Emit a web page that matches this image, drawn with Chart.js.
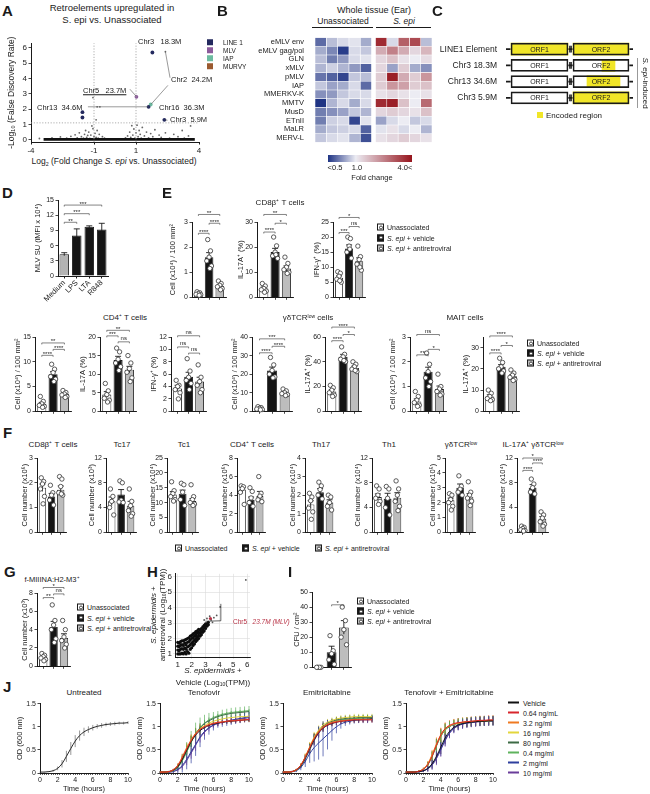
<!DOCTYPE html>
<html>
<head>
<meta charset="utf-8">
<script src="https://cdn.jsdelivr.net/npm/chart.js@4.4.1/dist/chart.umd.min.js"></script>
<style>
  html, body { margin: 0; padding: 0; background: #fff; }
  #fig { position: relative; width: 650px; height: 794px; overflow: hidden;
         font-family: "Liberation Sans", Arial, sans-serif; color: #1a1a1a; }
  .t { position: absolute; white-space: nowrap; line-height: 1; color: #1a1a1a; }
  .t sup, .t sub { font-size: 62%; line-height: 0; position: relative; vertical-align: baseline; }
  .t sup { top: -0.5em; }
  .t sub { top: 0.3em; }
  .cv { position: absolute; }
  .ic { display: inline-block; position: relative; width: 5px; height: 5px; border: 1px solid #1a1a1a;
        margin-right: 3px; vertical-align: -1px; }
  .ic:after { content: ''; position: absolute; left: 0.5px; top: 0.5px; width: 4px; height: 4px;
              border-radius: 50%; box-sizing: border-box; border: 0.8px solid #444; background: #fff; }
  .ln { display: inline-block; width: 11px; height: 1.6px; margin-right: 4px; vertical-align: 2px; }
  .hr { position: absolute; height: 0; border-top: 1px solid #1a1a1a; }
</style>
</head>
<body>
<div id="fig"></div>
<script>
// ---------------- data ----------------

// A: volcano plot (log2 fold change, -log10 FDR)
const volFcCut = [-1, 1];
const volFdrCut = 1.1;
const volYMin = -0.15, volYMax = 6.3;
const volFamilies = ['LINE 1', 'MLV', 'IAP', 'MURVY'];
const volFamilyColors = ['#23295e', '#8b5a9b', '#6cbba0', '#9b5a30'];
const volLine1 = [[1.78, 5.7], [1.6, 2.15], [-1.55, 1.8], [-1.55, 1.45], [2.35, 1.3]];
const volMlv = [[1.02, 2.8]];
const volIap = [[1.7, 2.3]];
const volMurvy = [];
const volOther = [[2.4, 5.75], [-1.05, 2.75], [-0.85, 2.15], [-0.72, 2.15], [-0.9, 1.3],
  [-3.6, 0.08], [-3.3, 0.05], [-3.0, 0.12], [-2.8, 0.04], [-2.6, 0.18], [-2.5, 0.06], [-2.3, 0.1],
  [-2.1, 0.22], [-2.0, 0.05], [-1.9, 0.32], [-1.8, 0.12], [-1.7, 0.45], [-1.6, 0.2], [-1.5, 0.1],
  [-1.45, 0.35], [-1.4, 0.6], [-1.35, 0.15], [-1.3, 0.28], [-1.25, 0.5], [-1.2, 0.08], [-1.15, 0.3],
  [-1.1, 0.9], [-1.05, 0.72], [-1.0, 0.2], [-0.95, 0.42], [-0.9, 0.15], [-0.85, 0.6], [-0.8, 0.1],
  [-0.75, 0.35], [-0.7, 0.06], [-0.6, 0.2], [-0.5, 0.1], [-0.3, 0.04], [0.3, 0.05], [0.5, 0.12],
  [0.6, 0.25], [0.7, 0.5], [0.75, 0.15], [0.8, 0.92], [0.85, 0.3], [0.9, 0.7], [0.95, 0.1],
  [1.0, 0.45], [1.05, 0.95], [1.1, 0.2], [1.15, 0.6], [1.2, 0.35], [1.25, 0.1], [1.3, 0.8],
  [1.4, 0.25], [1.5, 0.5], [1.6, 0.12], [1.7, 0.4], [1.8, 0.2], [1.9, 0.65], [2.0, 0.06],
  [2.1, 0.3], [2.2, 0.15], [2.4, 0.45], [2.6, 0.1], [2.8, 0.35], [3.0, 0.2], [3.2, 0.6],
  [3.3, 0.1], [3.5, 0.25], [3.6, 0.9], [3.7, 0.06]];
const volZeroBand = [[-3.4, 0.02], [3.8, 0.02]];
const volLeaders = [[2.4, 5.75, 2.62, 4.05], [2.52, 3.55, 1.72, 2.32], [0.71, 3.3, 1.0, 2.85],
  [-1.29, 2.15, 1.6, 2.15], [2.5, 1.27, 2.37, 1.3]];

// B: heatmap, log2 fold change per mouse
const hmRows = ['eMLV env', 'eMLV gag/pol', 'GLN', 'xMLV', 'pMLV', 'IAP', 'MMERKV-K', 'MMTV',
  'MusD', 'ETnII', 'MaLR', 'MERV-L'];
const hmUnassoc = [
  [-0.7, -0.25, -0.1, -0.05, -0.35], [-0.35, -0.55, -0.95, -0.1, -0.2], [-0.25, -0.6, -0.45, -0.1, -0.05],
  [-0.3, -0.15, -0.3, -0.45, -0.75], [-0.65, -0.75, -0.9, -0.2, -0.25], [-0.2, -0.4, -0.35, -0.1, -0.7],
  [-0.5, -0.45, -0.2, -0.1, -0.1], [-1.0, -0.3, -0.1, -0.35, -0.1], [-0.6, -0.5, -0.4, -0.2, -0.3],
  [-0.6, -0.15, -0.1, -0.9, -0.05], [-0.35, -0.2, -0.15, -0.1, -0.75], [-0.2, -0.1, -0.05, -0.3, -0.85]];
const hmSepi = [
  [1.8, -0.1, 1.3, 1.5, -0.25], [0.6, 1.0, 0.6, 0.2, 0.5], [0.2, 0.4, 0.1, 0.0, 0.15],
  [0.2, -0.4, 0.3, -0.35, -0.5], [0.3, 1.9, 0.6, 0.3, 0.8], [0.3, 0.8, 0.7, 0.3, 0.4],
  [0.1, 0.2, 0.1, 0.0, 0.1], [1.8, 1.9, 0.4, 0.0, 1.2], [0.2, 0.3, 0.2, 0.1, 0.4],
  [-0.4, -0.1, 0.0, -0.2, -0.1], [-0.05, 0.1, -0.1, 0.0, -0.3], [0.1, 0.2, 0.3, 0.2, 0.1]];

// C: ORF map
const orfRows = ['LINE1 Element', 'Chr3 18.3M', 'Chr13 34.6M', 'Chr3 5.9M'];
const orfElement = [-5, 122];
const orf1 = [0, 57];
const orf2 = [62, 118];
const encOrf1 = [[0, 57], null, null, null];
const encOrf2 = [[62, 118], [91, 104], [76, 109], [62, 118]];

// D
const dCats = ['Medium', 'LPS', 'LTA', 'R848'];
const dMean = [4.3, 8.0, 9.7, 9.2];
const dSem = [0.3, 1.3, 0.2, 1.2];

// E-I: group order = Unassociated, S. epi + vehicle, S. epi + antiretroviral
const groups = ['Unassociated', '<i>S. epi</i> + vehicle', '<i>S. epi</i> + antiretroviral'];
const e1Mean = [0.15, 1.6, 0.45], e1Sem = [0.03, 0.18, 0.05];
const e1Pts = [[0.22, 0.18, 0.15, 0.12, 0.1, 0.08], [2.3, 1.85, 1.6, 1.45, 1.25, 1.15], [0.65, 0.55, 0.48, 0.42, 0.35, 0.3]];
const e2Mean = [3.5, 18, 11.5], e2Sem = [0.6, 1.5, 1.0];
const e2Pts = [[5.5, 4.5, 3.5, 3, 2.5, 2], [24, 20.5, 18, 16.5, 15.5, 17], [16, 13.5, 12, 11, 10, 9.5]];
const e3Mean = [6.5, 16.2, 12], e3Sem = [0.6, 1.2, 1.1];
const e3Pts = [[8.5, 8, 7, 6, 5, 5.5], [20, 19.5, 17, 15, 13, 16], [17, 13.5, 12.5, 11, 9, 10]];
const e4Mean = [1.5, 7.5, 3.5], e4Sem = [0.3, 0.5, 0.3];
const e4Pts = [[3, 2, 1.5, 1.2, 1, 0.8], [9.5, 8.5, 7.8, 7, 6.5, 6], [4.2, 3.8, 3.5, 3.3, 3, 2.8]];
const e5Mean = [4.5, 13.8, 11.2], e5Sem = [0.8, 1.0, 0.9];
const e5Pts = [[7.5, 5.5, 4.5, 3.5, 3, 2.5], [17, 16, 14, 13, 12, 11], [15, 13, 11.5, 10.5, 9, 8]];
const e6Mean = [3.7, 5.6, 4.8], e6Sem = [0.5, 0.7, 0.7];
const e6Pts = [[5, 4.2, 4, 3.5, 3, 2], [8.5, 6.5, 5.5, 5, 4.5, 3.5], [7.5, 5.5, 4.8, 4.2, 3.5, 3]];
const e7Mean = [1.5, 22, 10], e7Sem = [0.3, 1.8, 0.6];
const e7Pts = [[2.5, 2, 1.6, 1.2, 1, 0.8], [29, 25, 22, 20, 18.5, 18], [12, 11, 10, 9.5, 9, 8.5]];
const e8Mean = [16, 44, 35], e8Sem = [1.5, 2.0, 1.5];
const e8Pts = [[21, 19, 17, 15, 13, 12], [52, 46, 44, 42, 40, 41], [40, 38, 36, 34, 32, 33]];
const e9Mean = [0.4, 1.6, 0.9], e9Sem = [0.1, 0.18, 0.12];
const e9Pts = [[0.8, 0.6, 0.45, 0.35, 0.25, 0.2], [2.35, 1.9, 1.6, 1.35, 1.2, 1.0], [1.5, 1.0, 0.9, 0.8, 0.7, 0.65]];
const e10Mean = [7, 21, 16.5], e10Sem = [0.8, 1.0, 0.8];
const e10Pts = [[10, 8.5, 7, 6, 5.5, 5], [25, 23, 21, 20, 19, 18], [19.5, 18, 17, 16, 15, 14.5]];

const f1Mean = [1.8, 1.45, 1.72], f1Sem = [0.15, 0.12, 0.15];
const f1Pts = [[2.2, 2.05, 1.95, 1.75, 1.45, 1.15], [1.9, 1.6, 1.5, 1.3, 1.1], [2.25, 2.15, 1.85, 1.6, 1.5, 1.55]];
const f2Mean = [5, 6.1, 4.3], f2Sem = [0.7, 0.8, 0.7];
const f2Pts = [[7, 5.8, 5, 4, 2.8], [8.3, 8, 5.2, 4.9, 4.8], [7, 5, 4.3, 3.5, 3, 2.6]];
const f3Mean = [12.7, 13, 10.5], f3Sem = [1.0, 1.2, 0.8];
const f3Pts = [[17, 14, 13, 12, 11, 10.5], [16.5, 16, 13.5, 11, 9], [16, 12, 11, 10, 9.5, 9]];
const f4Mean = [4.6, 3.5, 3.9], f4Sem = [0.4, 0.3, 0.5];
const f4Pts = [[5, 4.9, 4.7, 4.3, 3], [4.8, 4.4, 3.7, 3.2, 2.8], [6, 4.2, 3.9, 3.5, 3.3]];
const f5Mean = [1.5, 2.15, 1.6], f5Sem = [0.2, 0.2, 0.15];
const f5Pts = [[2.1, 1.9, 1.7, 1.3, 1.1, 0.7], [2.7, 2.5, 2.3, 2.0, 1.8], [2.0, 1.9, 1.6, 1.4, 1.2]];
const f6Mean = [5.7, 5.4, 5.6], f6Sem = [0.5, 0.9, 0.8];
const f6Pts = [[7.5, 7, 6, 5.5, 5, 4.5], [7.4, 7, 5.5, 4, 2.8], [8.3, 7, 6, 5, 4.2, 3.5]];
const f7Mean = [2.15, 3.0, 2.4], f7Sem = [0.15, 0.25, 0.2];
const f7Pts = [[2.6, 2.5, 2.2, 2.0, 1.75, 1.5], [3.8, 3.1, 2.9, 2.7, 2.5], [3.4, 2.7, 2.5, 2.3, 2.1, 1.8]];
const f8Mean = [0.5, 7.2, 2.2], f8Sem = [0.1, 0.5, 0.35];
const f8Pts = [[1.0, 0.8, 0.6, 0.4, 0.3, 0.2], [8.6, 7.8, 7.2, 6.5, 6.2], [3.3, 2.8, 2.3, 1.7, 1.3, 1.0]];

const gMean = [1.0, 4.3, 3.1], gSem = [0.12, 0.6, 0.45];
const gPts = [[1.4, 1.2, 1.05, 0.9, 0.75, 0.6], [6.7, 5, 4.5, 4, 3, 2.6], [5, 4, 3.2, 2.8, 2.4, 2]];

const iMean = [0, 10, 26.5], iSem = [0, 4, 4.5];
const iPts = [[0, 0, 0, 0], [21, 11, 9, 5, 2], [40, 31, 25, 20, 15]];

// H: log10 TPM, vehicle (x) vs antiretroviral (y)
const hCloud = [
  [1.0, 1.0], [1.0, 1.25], [1.0, 1.5], [1.0, 1.75], [1.1, 1.0], [1.1, 1.2], [1.1, 1.45], [1.1, 1.7],
  [1.2, 1.0], [1.2, 1.3], [1.2, 1.55], [1.2, 1.8], [1.3, 1.05], [1.3, 1.35], [1.3, 1.6], [1.3, 1.85],
  [1.4, 1.0], [1.4, 1.3], [1.4, 1.55], [1.4, 1.85], [1.5, 1.1], [1.5, 1.4], [1.5, 1.7], [1.5, 1.9],
  [1.6, 1.0], [1.6, 1.3], [1.6, 1.6], [1.6, 1.95], [1.7, 1.15], [1.7, 1.45], [1.7, 1.75], [1.7, 2.0],
  [1.8, 1.05], [1.8, 1.5], [1.8, 1.8], [1.8, 2.05], [1.9, 1.3], [1.9, 1.6], [1.9, 1.9], [1.9, 2.15],
  [2.0, 1.4], [2.0, 1.7], [2.0, 2.0], [2.0, 2.2], [2.1, 1.55], [2.1, 1.8], [2.1, 2.05], [2.1, 2.3],
  [2.2, 1.65], [2.2, 1.9], [2.2, 2.15], [2.2, 2.35], [2.3, 1.8], [2.3, 2.0], [2.3, 2.25], [2.3, 2.45],
  [2.4, 1.9], [2.4, 2.1], [2.4, 2.35], [2.4, 2.5], [2.5, 2.0], [2.5, 2.2], [2.5, 2.4], [2.5, 2.6],
  [2.6, 2.15], [2.6, 2.35], [2.6, 2.55], [2.7, 2.25], [2.7, 2.45], [2.7, 2.65], [2.8, 2.4], [2.8, 2.55],
  [2.8, 2.75], [2.9, 2.5], [2.9, 2.7], [2.9, 2.85], [3.0, 2.65], [3.0, 2.8], [3.0, 2.95], [3.1, 2.8],
  [3.1, 2.95], [3.2, 2.9], [3.2, 3.05]];
const hSparse = [[3.4, 3.2], [3.6, 3.35], [3.8, 3.5], [3.3, 3.45], [3.5, 3.05], [2.9, 3.2], [3.1, 3.3],
  [4.05, 4.05], [5.9, 5.8]];
const hChr5 = [[3.35, 3.3]];
const hLeader = [[3.0, 3.12], [4.1, 3.15], [4.1, 4.25]];

// J: growth curves, OD600 every 0.5 h
const jTime = [0, 0.5, 1, 1.5, 2, 2.5, 3, 3.5, 4, 4.5, 5, 5.5, 6, 6.5, 7, 7.5, 8, 8.5, 9, 9.5, 10];
const jLabels = ['Vehicle', '0.64 ng/mL', '3.2 ng/ml', '16 ng/ml', '80 ng/ml', '0.4 mg/ml', '2 mg/ml', '10 mg/ml'];
const jColors = ['#111111', '#d8262c', '#ef7a22', '#e3d63c', '#3d6b45', '#5fb35d', '#2f3f9e', '#6a3d9a'];
const untVeh = [0.02, 0.02, 0.03, 0.05, 0.1, 0.2, 0.36, 0.53, 0.69, 0.81, 0.89, 0.94, 0.98, 1.01, 1.03, 1.05, 1.06, 1.07, 1.08, 1.08, 1.09];
const untErr = [0.01, 0.01, 0.01, 0.02, 0.04, 0.08, 0.12, 0.14, 0.13, 0.11, 0.09, 0.07, 0.06, 0.05, 0.05, 0.04, 0.04, 0.04, 0.03, 0.03, 0.03];
const tenVeh = [0.02, 0.02, 0.03, 0.06, 0.14, 0.3, 0.5, 0.68, 0.82, 0.92, 0.98, 1.03, 1.06, 1.08, 1.1, 1.11, 1.12, 1.13, 1.14, 1.15, 1.15];
const ten064 = [0.02, 0.02, 0.03, 0.07, 0.16, 0.33, 0.52, 0.7, 0.84, 0.94, 1.0, 1.04, 1.07, 1.09, 1.1, 1.12, 1.13, 1.13, 1.14, 1.15, 1.16];
const ten32 = [0.02, 0.02, 0.03, 0.07, 0.17, 0.35, 0.55, 0.72, 0.86, 0.95, 1.01, 1.05, 1.08, 1.1, 1.11, 1.12, 1.13, 1.14, 1.15, 1.15, 1.16];
const ten16 = [0.02, 0.02, 0.03, 0.06, 0.15, 0.32, 0.52, 0.7, 0.85, 0.96, 1.03, 1.08, 1.12, 1.15, 1.17, 1.19, 1.2, 1.21, 1.22, 1.22, 1.23];
const ten80 = [0.02, 0.02, 0.03, 0.06, 0.13, 0.28, 0.48, 0.68, 0.85, 0.98, 1.07, 1.13, 1.18, 1.22, 1.25, 1.27, 1.29, 1.3, 1.31, 1.32, 1.33];
const ten04 = [0.02, 0.02, 0.03, 0.05, 0.12, 0.26, 0.45, 0.66, 0.84, 0.98, 1.08, 1.15, 1.2, 1.24, 1.27, 1.29, 1.31, 1.32, 1.33, 1.34, 1.35];
const ten2 = [0.02, 0.02, 0.02, 0.04, 0.08, 0.16, 0.3, 0.46, 0.62, 0.78, 0.9, 0.98, 1.04, 1.08, 1.1, 1.12, 1.14, 1.16, 1.18, 1.2, 1.22];
const ten10 = [0.02, 0.02, 0.02, 0.03, 0.07, 0.14, 0.27, 0.43, 0.6, 0.76, 0.88, 0.97, 1.03, 1.07, 1.1, 1.12, 1.14, 1.16, 1.17, 1.18, 1.2];
const tenErr = [0.01, 0.01, 0.01, 0.02, 0.04, 0.07, 0.1, 0.12, 0.12, 0.1, 0.08, 0.07, 0.06, 0.06, 0.05, 0.05, 0.05, 0.05, 0.05, 0.05, 0.05];
const tenErrBig = [0.01, 0.01, 0.02, 0.04, 0.08, 0.15, 0.22, 0.25, 0.25, 0.22, 0.18, 0.15, 0.12, 0.1, 0.1, 0.1, 0.1, 0.1, 0.1, 0.1, 0.1];
const emtVeh = [0.02, 0.02, 0.03, 0.07, 0.16, 0.33, 0.53, 0.72, 0.87, 0.97, 1.03, 1.07, 1.1, 1.12, 1.13, 1.14, 1.15, 1.15, 1.16, 1.16, 1.17];
const emt064 = [0.02, 0.02, 0.03, 0.07, 0.17, 0.34, 0.55, 0.74, 0.88, 0.98, 1.04, 1.08, 1.1, 1.12, 1.13, 1.14, 1.15, 1.15, 1.15, 1.15, 1.15];
const emt32 = [0.02, 0.02, 0.03, 0.07, 0.17, 0.35, 0.56, 0.76, 0.9, 1.0, 1.06, 1.1, 1.12, 1.13, 1.14, 1.15, 1.16, 1.16, 1.16, 1.16, 1.16];
const emt16 = [0.02, 0.02, 0.03, 0.07, 0.17, 0.35, 0.57, 0.78, 0.93, 1.04, 1.1, 1.14, 1.17, 1.19, 1.2, 1.21, 1.22, 1.22, 1.22, 1.22, 1.22];
const emt80 = [0.02, 0.02, 0.03, 0.06, 0.15, 0.32, 0.54, 0.75, 0.9, 1.01, 1.08, 1.12, 1.15, 1.17, 1.18, 1.19, 1.19, 1.2, 1.2, 1.2, 1.2];
const emt04 = [0.02, 0.02, 0.03, 0.06, 0.15, 0.31, 0.52, 0.72, 0.88, 0.99, 1.06, 1.1, 1.13, 1.15, 1.16, 1.17, 1.18, 1.18, 1.19, 1.19, 1.19];
const emt2 = [0.02, 0.02, 0.03, 0.05, 0.12, 0.25, 0.42, 0.55, 0.65, 0.74, 0.83, 0.92, 1.0, 1.06, 1.1, 1.12, 1.14, 1.15, 1.15, 1.15, 1.16];
const emt10 = [0.02, 0.02, 0.03, 0.06, 0.14, 0.3, 0.5, 0.7, 0.86, 0.98, 1.05, 1.1, 1.13, 1.15, 1.16, 1.16, 1.17, 1.17, 1.17, 1.17, 1.18];
const emtErr = [0.01, 0.01, 0.01, 0.02, 0.04, 0.07, 0.1, 0.11, 0.1, 0.08, 0.07, 0.06, 0.06, 0.06, 0.06, 0.06, 0.06, 0.06, 0.06, 0.06, 0.06];
const emtErrBig = [0.01, 0.01, 0.02, 0.03, 0.06, 0.12, 0.2, 0.3, 0.36, 0.38, 0.32, 0.22, 0.14, 0.1, 0.08, 0.07, 0.07, 0.07, 0.07, 0.07, 0.07];
const comVeh = [0.02, 0.02, 0.02, 0.03, 0.05, 0.1, 0.2, 0.36, 0.56, 0.76, 0.9, 0.99, 1.04, 1.07, 1.09, 1.1, 1.11, 1.12, 1.12, 1.13, 1.13];
const com064 = [0.02, 0.02, 0.02, 0.04, 0.08, 0.18, 0.36, 0.6, 0.82, 0.96, 1.03, 1.07, 1.09, 1.1, 1.11, 1.12, 1.13, 1.14, 1.14, 1.15, 1.15];
const com32 = [0.02, 0.02, 0.02, 0.04, 0.09, 0.2, 0.4, 0.63, 0.83, 0.96, 1.02, 1.06, 1.08, 1.1, 1.11, 1.12, 1.12, 1.13, 1.13, 1.14, 1.14];
const com16 = [0.02, 0.02, 0.02, 0.04, 0.08, 0.19, 0.38, 0.61, 0.81, 0.95, 1.02, 1.06, 1.08, 1.1, 1.11, 1.11, 1.12, 1.13, 1.13, 1.13, 1.14];
const com80 = [0.02, 0.02, 0.02, 0.04, 0.08, 0.18, 0.37, 0.6, 0.8, 0.94, 1.01, 1.05, 1.08, 1.09, 1.1, 1.11, 1.12, 1.12, 1.13, 1.13, 1.13];
const com04 = [0.02, 0.02, 0.02, 0.04, 0.08, 0.17, 0.35, 0.58, 0.79, 0.93, 1.0, 1.05, 1.07, 1.09, 1.1, 1.11, 1.12, 1.12, 1.13, 1.13, 1.14];
const com2 = [0.02, 0.02, 0.02, 0.03, 0.05, 0.09, 0.18, 0.33, 0.52, 0.72, 0.87, 0.97, 1.03, 1.06, 1.08, 1.1, 1.11, 1.12, 1.12, 1.13, 1.13];
const com10 = [0.02, 0.02, 0.02, 0.03, 0.05, 0.09, 0.17, 0.31, 0.5, 0.7, 0.86, 0.96, 1.02, 1.06, 1.08, 1.09, 1.1, 1.11, 1.12, 1.12, 1.13];
const comErr = [0.01, 0.01, 0.01, 0.02, 0.03, 0.06, 0.1, 0.14, 0.15, 0.13, 0.11, 0.1, 0.1, 0.1, 0.1, 0.1, 0.1, 0.1, 0.1, 0.1, 0.1];

// ---------------- helpers ----------------
const fig = document.getElementById('fig');
const ink = '#1a1a1a';
const groupFill = ['#ffffff', '#151515', '#bdbdbd'];
const jitter = [-0.13, 0.13, 0, -0.22, 0.22, 0.07];
Chart.defaults.font.family = '"Liberation Sans", Arial, sans-serif';
Chart.defaults.font.size = 7;
Chart.defaults.color = ink;

function T(html, x, y, o) {
  o = o || {};
  const d = document.createElement('div');
  d.className = 't';
  d.innerHTML = html;
  d.style.left = x + 'px';
  d.style.top = y + 'px';
  d.style.fontSize = (o.s || 7.5) + 'px';
  if (o.c) d.style.color = o.c;
  const ax = o.a === 'l' ? '0' : o.a === 'r' ? '-100%' : '-50%';
  d.style.transform = 'translate(' + ax + ',-50%)' + (o.rot ? ' rotate(' + o.rot + 'deg)' : '');
  fig.appendChild(d);
  return d;
}
function hr(x1, x2, y, col) {
  const d = document.createElement('div');
  d.className = 'hr';
  d.style.left = x1 + 'px'; d.style.width = (x2 - x1) + 'px'; d.style.top = y + 'px';
  if (col) d.style.borderTopColor = col;
  fig.appendChild(d);
}
const icon = k => '<span class="ic" style="background:' + groupFill[k] + '"></span>';
function legendCol(x, y, dy, s) {
  groups.forEach((g, i) => T(icon(i) + g, x, y + i * dy, {a: 'l', s: s || 7}));
}

function canvasAt(plot, m) {
  const c = document.createElement('canvas');
  const w = plot[2] - plot[0] + m.l + m.r, h = plot[3] - plot[1] + m.t + m.b;
  c.width = w; c.height = h;
  c.className = 'cv';
  c.style.left = (plot[0] - m.l) + 'px';
  c.style.top = (plot[1] - m.t) + 'px';
  c.style.width = w + 'px'; c.style.height = h + 'px';
  fig.appendChild(c);
  return c;
}
function opts(m, scales, extra) {
  return Object.assign({
    responsive: false, animation: false, events: [],
    layout: {padding: {left: 0, top: m.t, right: m.r, bottom: 0}},
    plugins: {legend: {display: false}, tooltip: {enabled: false}},
    scales: scales
  }, extra || {});
}
function yAxis(min, max, step, L, title, extra) {
  return Object.assign({
    type: 'linear', min: min, max: max,
    ticks: {stepSize: step, font: {size: 7}, color: ink, padding: 1.5},
    grid: {drawOnChartArea: false, tickLength: 2.5, color: ink, lineWidth: 0.8},
    border: {color: ink, width: 1},
    title: {display: !!title, text: title || '', font: {size: 7.5}, color: ink, padding: 0},
    afterFit: s => { s.width = L; }
  }, extra || {});
}

// error bars on dataset 0 (bars), drawn before the dots
const errBars = {
  id: 'errBars',
  afterDatasetDraw(chart, args) {
    if (args.index !== 0) return;
    const ds = chart.data.datasets[0];
    if (!ds.sem) return;
    const y = chart.scales.y, ctx = chart.ctx;
    ctx.save();
    ctx.strokeStyle = ink; ctx.lineWidth = 0.9;
    args.meta.data.forEach((bar, i) => {
      const raw = ds.data[i], v = typeof raw === 'object' ? raw.y : raw;
      const top = y.getPixelForValue(v + ds.sem[i]), lo = y.getPixelForValue(v - ds.sem[i]);
      ctx.beginPath();
      ctx.moveTo(bar.x, lo); ctx.lineTo(bar.x, top);
      ctx.moveTo(bar.x - 3, top); ctx.lineTo(bar.x + 3, top);
      ctx.stroke();
    });
    ctx.restore();
  }
};
// significance brackets [groupA, groupB, yValue, label]
const sigBars = {
  id: 'sigBars',
  afterDraw(chart) {
    const list = chart.data.datasets[0].sig;
    if (!list) return;
    const x = chart.scales.x, y = chart.scales.y, ctx = chart.ctx;
    ctx.save();
    ctx.strokeStyle = '#333'; ctx.fillStyle = '#222'; ctx.lineWidth = 0.6;
    ctx.font = '6px "Liberation Sans", Arial, sans-serif';
    ctx.textAlign = 'center'; ctx.textBaseline = 'bottom';
    list.forEach(([a, b, v, lab]) => {
      const xa = x.getPixelForValue(a), xb = x.getPixelForValue(b), yy = y.getPixelForValue(v);
      ctx.beginPath();
      ctx.moveTo(xa, yy + 1.5); ctx.lineTo(xa, yy); ctx.lineTo(xb, yy); ctx.lineTo(xb, yy + 1.5);
      ctx.stroke();
      ctx.fillText(lab, (xa + xb) / 2, yy + (lab === 'ns' ? -0.3 : 1.8));
    });
    ctx.restore();
  }
};
// vertical error bars on line series
const lineErr = {
  id: 'lineErr',
  beforeDatasetsDraw(chart) {
    const y = chart.scales.y, ctx = chart.ctx;
    ctx.save();
    ctx.lineWidth = 0.7;
    chart.data.datasets.forEach((ds, i) => {
      if (!ds.err) return;
      ctx.strokeStyle = ds.errColor || ds.borderColor;
      chart.getDatasetMeta(i).data.forEach((p, k) => {
        const v = ds.data[k].y, e = ds.err[k];
        ctx.beginPath();
        ctx.moveTo(p.x, y.getPixelForValue(v - e)); ctx.lineTo(p.x, y.getPixelForValue(v + e));
        ctx.stroke();
      });
    });
    ctx.restore();
  }
};
// text inside ORF boxes
const boxText = {
  id: 'boxText',
  afterDatasetsDraw(chart) {
    const ctx = chart.ctx;
    ctx.save();
    ctx.fillStyle = ink; ctx.font = '7px "Liberation Sans", Arial, sans-serif';
    ctx.textAlign = 'center'; ctx.textBaseline = 'middle';
    chart.data.datasets.forEach((ds, i) => {
      if (!ds.txt) return;
      chart.getDatasetMeta(i).data.forEach(el => {
        const p = el.getCenterPoint();
        ctx.fillText(ds.txt, p.x, p.y + 0.5);
      });
    });
    ctx.restore();
  }
};

function dotBar(plot, L, ymax, step, ytitle, mean, sem, pts, sig) {
  const m = {l: L, t: 30, r: 3, b: 5};
  const c = canvasAt(plot, m);
  const dots = [];
  pts.forEach((g, i) => g.forEach((v, k) => dots.push({x: i + jitter[k % jitter.length], y: v})));
  new Chart(c, {
    type: 'bar',
    data: {datasets: [
      {type: 'bar', data: mean.map((v, i) => ({x: i, y: v})), sem: sem, sig: sig || [],
       backgroundColor: groupFill, borderColor: ink, borderWidth: 0.9,
       barPercentage: 0.8, categoryPercentage: 1, order: 2},
      {type: 'scatter', data: dots, pointRadius: 2.2, pointBackgroundColor: '#fff',
       pointBorderColor: '#333', pointBorderWidth: 0.8, clip: false, order: 1}
    ]},
    options: opts(m, {
      x: {type: 'linear', min: -0.6, max: 2.6, offset: false,
          afterBuildTicks: s => { s.ticks = [0, 1, 2].map(v => ({value: v})); },
          ticks: {callback: () => ''},
          grid: {offset: false, drawOnChartArea: false, tickLength: 2.5, color: ink, lineWidth: 0.8},
          border: {color: ink, width: 1}, afterFit: s => { s.height = m.b; }},
      y: yAxis(0, ymax, step, m.l, ytitle)
    }),
    plugins: [errBars, sigBars]
  });
}

function growth(plot, series) {
  const m = {l: 25, t: 5, r: 5, b: 20};
  const c = canvasAt(plot, m);
  const ds = series.map(s => ({
    type: 'line', data: jTime.map((t, i) => ({x: t, y: s.v[i]})), err: s.e, errColor: s.ec,
    borderColor: s.c, borderWidth: 1, pointRadius: 0, tension: 0.35, order: s.o || 0
  }));
  new Chart(c, {
    type: 'line',
    data: {datasets: ds},
    options: opts(m, {
      x: {type: 'linear', min: 0, max: 10,
          afterBuildTicks: s => { const t = []; for (let v = 0; v <= 10; v += 0.25) t.push({value: v}); s.ticks = t; },
          ticks: {autoSkip: false, maxRotation: 0, padding: 1, font: {size: 7},
                  callback: v => (Math.abs(v % 2) < 1e-6 ? String(v) : '')},
          grid: {drawOnChartArea: false, tickLength: 2, color: ink, lineWidth: 0.7},
          border: {color: ink, width: 1},
          title: {display: true, text: 'Time (hours)', font: {size: 7.5}, padding: 0},
          afterFit: s => { s.height = m.b; }},
      y: yAxis(0, 1.5, 0.5, m.l, 'OD (600 nm)', {
          afterBuildTicks: s => { s.ticks = [0, 0.5, 1, 1.5].map(v => ({value: v})); },
          ticks: {font: {size: 7}, color: ink, padding: 1.5, callback: v => String(v)}})
    }),
    plugins: [lineErr]
  });
}

function heat(v) {
  const mid = [236, 236, 243], lo = [31, 52, 132], hi = [150, 20, 28];
  const t = v < 0 ? Math.min(1, -v) : Math.min(1, v / 2);
  const e = v < 0 ? lo : hi;
  const c = mid.map((a, i) => Math.round(a + (e[i] - a) * t));
  return 'rgb(' + c.join(',') + ')';
}
const xy = p => p.map(([x, y]) => ({x: x, y: y}));
const lineDs = (p, col, w, dash) => ({type: 'line', data: xy(p), borderColor: col, borderWidth: w,
  borderDash: dash || [], pointRadius: 0, fill: false, clip: false});
const dotDs = (p, col, r) => ({type: 'scatter', data: xy(p), pointRadius: r, pointBackgroundColor: col,
  pointBorderWidth: 0, clip: false});

// ---------------- A ----------------
T('<b>A</b>', 2, 10, {a: 'l', s: 15});
T('Retroelements upregulated in', 112, 8, {s: 9.5});
T('S. epi vs. Unassociated', 112, 20, {s: 9.5});
(function () {
  const plot = [31, 41, 199, 142], m = {l: 24, t: 4, r: 4, b: 12};
  const c = canvasAt(plot, m);
  const ds = [];
  volFcCut.forEach(v => ds.push(lineDs([[v, volYMin], [v, volYMax]], '#9a9a9a', 0.8, [1.2, 1.6])));
  ds.push(lineDs([[-4, volFdrCut], [4, volFdrCut]], '#9a9a9a', 0.8, [1.2, 1.6]));
  ds.push(lineDs(volZeroBand, '#111', 2.6));
  volLeaders.forEach(([a, b, c2, d]) => ds.push(lineDs([[a, b], [c2, d]], '#555', 0.6)));
  ds.push(dotDs(volOther, '#666', 0.9));
  [volLine1, volMlv, volIap, volMurvy].forEach((p, i) => ds.push(dotDs(p, volFamilyColors[i], 1.9)));
  new Chart(c, {
    type: 'scatter',
    data: {datasets: ds},
    options: opts(m, {
      x: {type: 'linear', min: -4, max: 4,
          afterBuildTicks: s => { s.ticks = [-4, -1, 1, 4].map(v => ({value: v})); },
          ticks: {font: {size: 8}, padding: 1},
          grid: {drawOnChartArea: false, tickLength: 2.5, color: ink},
          border: {color: ink, width: 1}, afterFit: s => { s.height = m.b; }},
      y: yAxis(volYMin, volYMax, 1, m.l, '-Log\u2081\u2080 (False Discovery Rate)', {
          afterBuildTicks: s => { s.ticks = [0, 1, 2, 3, 4, 5, 6].map(v => ({value: v})); },
          ticks: {font: {size: 8}, padding: 1.5},
          title: {display: true, text: '-Log\u2081\u2080 (False Discovery Rate)', font: {size: 8.5}, padding: 0}})
    })
  });
})();
T('Log<sub>2</sub> (Fold Change <i>S. epi</i> vs. Unassociated)', 114, 161, {s: 8.5});
T('Chr3&nbsp;&nbsp; 18.3M', 138, 42, {a: 'l', s: 7.5});
T('Chr2&nbsp; 24.2M', 171, 80, {a: 'l', s: 7.5});
T('<u>Chr5&nbsp;&nbsp; 23.7M</u>', 83, 91, {a: 'l', s: 7.5});
T('Chr13&nbsp; 34.6M', 37, 108, {a: 'l', s: 7.5});
T('Chr16&nbsp; 36.3M', 159, 108, {a: 'l', s: 7.5});
T('Chr3&nbsp; 5.9M', 170, 120, {a: 'l', s: 7.5});
volFamilies.forEach((f, i) => {
  T('<span style="display:inline-block;width:6px;height:6px;background:' + volFamilyColors[i] + '"></span>', 207, 43 + i * 8, {a: 'l'});
  T(f, 223, 43 + i * 8, {a: 'l', s: 6.5});
});

// ---------------- B ----------------
T('<b>B</b>', 217, 10, {a: 'l', s: 15});
T('Whole tissue (Ear)', 374, 10, {s: 9});
T('Unassociated', 343, 21, {s: 8.5});
T('<i>S. epi</i>', 404, 21, {s: 8.5});
hr(312, 373, 27); hr(376, 431, 27);
(function () {
  const plot = [315, 32, 432, 148], m = {l: 80, t: 2, r: 2, b: 2};
  const c = canvasAt(plot, m);
  const cell = cols => ({data: hmRows.map(() => 1), backgroundColor: cols, borderColor: '#fff',
    borderWidth: 0.6, borderSkipped: false, barPercentage: 1, categoryPercentage: 1});
  const ds = [];
  for (let j = 0; j < hmUnassoc[0].length; j++) ds.push(cell(hmUnassoc.map(r => heat(r[j]))));
  ds.push({data: hmRows.map(() => 0.35), backgroundColor: 'rgba(0,0,0,0)', borderWidth: 0,
    barPercentage: 1, categoryPercentage: 1});
  for (let j = 0; j < hmSepi[0].length; j++) ds.push(cell(hmSepi.map(r => heat(r[j]))));
  new Chart(c, {
    type: 'bar',
    data: {labels: hmRows, datasets: ds},
    options: opts(m, {
      x: {stacked: true, min: 0, max: 10.35, ticks: {display: false}, grid: {display: false},
          border: {display: false}, afterFit: s => { s.height = m.b; }},
      y: {stacked: true, ticks: {font: {size: 7.5}, padding: 3, autoSkip: false, color: ink},
          grid: {display: false}, border: {display: false}, afterFit: s => { s.width = m.l; }}
    }, {indexAxis: 'y'})
  });
})();
(function () {
  const d = document.createElement('div');
  d.style.cssText = 'position:absolute;left:328px;top:155px;width:84px;height:7px;' +
    'background:linear-gradient(to right,' + heat(-1) + ' 0%,' + heat(-0.5) + ' 17%,' + heat(0) + ' 33%,' +
    heat(0.7) + ' 57%,' + heat(1.4) + ' 80%,' + heat(2) + ' 100%);';
  fig.appendChild(d);
})();
T('&lt;0.5', 335, 168, {s: 7.5});
T('1.0', 357, 168, {s: 7.5});
T('4.0&lt;', 405, 168, {s: 7.5});
T('Fold change', 372, 178, {s: 7.5});

// ---------------- C ----------------
T('<b>C</b>', 432, 10, {a: 'l', s: 15});
(function () {
  const plot = [506, 37, 633, 110], m = {l: 76, t: 2, r: 2, b: 2};
  const c = canvasAt(plot, m);
  const rowsOf = span => orfRows.map(() => span);
  const base = {grouped: false, borderSkipped: false, barThickness: 12};
  new Chart(c, {
    type: 'bar',
    data: {labels: orfRows, datasets: [
      Object.assign({}, base, {data: rowsOf(orfElement), backgroundColor: ink, barThickness: 1, order: 6}),
      Object.assign({}, base, {data: rowsOf([orf1[1] + 1.5, orf1[1] + 2.2]), backgroundColor: ink, barThickness: 6, order: 6}),
      Object.assign({}, base, {data: rowsOf([orf2[0] - 2.2, orf2[0] - 1.5]), backgroundColor: ink, barThickness: 6, order: 6}),
      Object.assign({}, base, {data: rowsOf(orf1), backgroundColor: '#fff', order: 5}),
      Object.assign({}, base, {data: rowsOf(orf2), backgroundColor: '#fff', order: 5}),
      Object.assign({}, base, {data: encOrf1, backgroundColor: '#f1e628', order: 4}),
      Object.assign({}, base, {data: encOrf2, backgroundColor: '#f1e628', order: 4}),
      Object.assign({}, base, {data: rowsOf(orf1), backgroundColor: 'rgba(0,0,0,0)', borderColor: ink, borderWidth: 1, order: 1, txt: 'ORF1'}),
      Object.assign({}, base, {data: rowsOf(orf2), backgroundColor: 'rgba(0,0,0,0)', borderColor: ink, borderWidth: 1, order: 1, txt: 'ORF2'})
    ]},
    options: opts(m, {
      x: {min: orfElement[0], max: orfElement[1], ticks: {display: false}, grid: {display: false},
          border: {display: false}, afterFit: s => { s.height = m.b; }},
      y: {ticks: {font: {size: 8.5}, padding: 1, autoSkip: false, color: ink}, grid: {display: false},
          border: {display: false}, afterFit: s => { s.width = m.l; }}
    }, {indexAxis: 'y'}),
    plugins: [boxText]
  });
})();
T('<span style="display:inline-block;width:6px;height:6px;background:#f1e628;margin-right:3px"></span>Encoded region', 537, 116, {a: 'l', s: 8});
(function () {
  const d = document.createElement('div');
  d.style.cssText = 'position:absolute;left:637px;top:58px;width:0;height:50px;border-left:1px solid #999;';
  fig.appendChild(d);
})();
T('<i>S. epi</i>-induced', 645, 83, {s: 8, rot: 90});

// ---------------- D ----------------
T('<b>D</b>', 2, 192, {a: 'l', s: 15});
(function () {
  const plot = [58, 200, 108, 276], m = {l: 25, t: 6, r: 3, b: 30};
  const c = canvasAt(plot, m);
  new Chart(c, {
    type: 'bar',
    data: {labels: dCats, datasets: [{data: dMean, sem: dSem,
      sig: [[0, 1, 10.6, '**'], [0, 2, 12.3, '***'], [0, 3, 14, '***']],
      backgroundColor: ['#b3b3b3', '#151515', '#151515', '#151515'], borderColor: ink, borderWidth: 0.9,
      barPercentage: 0.76, categoryPercentage: 1}]},
    options: opts(m, {
      x: {ticks: {maxRotation: 45, minRotation: 45, autoSkip: false, font: {size: 7.5}, padding: 0, color: ink},
          grid: {offset: false, drawOnChartArea: false, tickLength: 2.5, color: ink},
          border: {color: ink, width: 1}, afterFit: s => { s.height = m.b; }},
      y: yAxis(0, 15, 3, m.l, 'MLV SU (iMFI x 10\u2074)')
    }),
    plugins: [errBars, sigBars]
  });
})();

// ---------------- E ----------------
T('<b>E</b>', 162, 192, {a: 'l', s: 15});
T('CD8\u03b2\u207a T cells', 280, 203, {s: 8});
dotBar([192, 222, 228, 298], 24, 3, 1, 'Cell (x10\u2074) / 100 mm\u00b2', e1Mean, e1Sem, e1Pts,
  [[0, 1, 2.55, '****'], [1, 2, 2.95, '****'], [0, 2, 3.3, '**']]);
dotBar([257, 222, 295, 298], 21, 30, 10, 'IL-17A\u207a (%)', e2Mean, e2Sem, e2Pts,
  [[0, 1, 26, '****'], [1, 2, 29.5, '*'], [0, 2, 33, '**']]);
dotBar([333, 222, 367, 298], 21, 25, 5, 'IFN-\u03b3\u207a (%)', e3Mean, e3Sem, e3Pts,
  [[0, 1, 21.5, '***'], [1, 2, 23.5, 'ns'], [0, 2, 26.5, '*']]);
legendCol(377, 227, 10.5, 7);

T('CD4\u207a T cells', 125, 318, {s: 8});
T('\u03b3\u03b4TCR<sup>low</sup> cells', 308, 318, {s: 8});
T('MAIT cells', 465, 318, {s: 8});
dotBar([35, 337, 73, 412], 22, 15, 5, 'Cell (x10\u2074) / 100 mm\u00b2', e4Mean, e4Sem, e4Pts,
  [[0, 1, 11.3, '****'], [1, 2, 12.5, '****'], [0, 2, 13.8, '**']]);
dotBar([100, 337, 138, 412], 22, 20, 5, 'IL-17A (%)', e5Mean, e5Sem, e5Pts,
  [[0, 1, 20.3, '***'], [1, 2, 18.7, 'ns'], [0, 2, 21.8, '**']]);
dotBar([171, 337, 208, 412], 22, 12, 2, 'IFN-\u03b3\u207a (%)', e6Mean, e6Sem, e6Pts,
  [[0, 2, 12.2, 'ns'], [0, 1, 10.4, 'ns'], [1, 2, 9.4, 'ns']]);
dotBar([252, 337, 294, 412], 22, 40, 10, 'Cell (x10\u2074) / 100 mm\u00b2', e7Mean, e7Sem, e7Pts,
  [[0, 1, 31.5, '****'], [1, 2, 35, '****'], [0, 2, 39, '***']]);
dotBar([325, 337, 363, 412], 22, 60, 20, 'IL-17A\u207a (%)', e8Mean, e8Sem, e8Pts,
  [[0, 1, 57, '****'], [1, 2, 62, '*'], [0, 2, 68, '****']]);
dotBar([410, 337, 448, 412], 22, 3, 1, 'Cell (x10\u2074) / 100 mm\u00b2', e9Mean, e9Sem, e9Pts,
  [[0, 1, 2.28, '**'], [1, 2, 2.5, '*'], [0, 2, 3.1, 'ns']]);
dotBar([483, 337, 521, 412], 22, 35, 5, 'IL-17A\u207a (%)', e10Mean, e10Sem, e10Pts,
  [[0, 1, 27.5, '****'], [1, 2, 31, '*'], [0, 2, 35.5, '****']]);
legendCol(527, 343, 10, 7);

// ---------------- F ----------------
T('<b>F</b>', 3, 432, {a: 'l', s: 15});
T('CD8\u03b2\u207a T cells', 53, 445, {s: 8});
T('Tc17', 122, 445, {s: 8});
T('Tc1', 184, 445, {s: 8});
T('CD4\u207a T cells', 252, 445, {s: 8});
T('Th17', 321, 445, {s: 8});
T('Th1', 389, 445, {s: 8});
T('\u03b3\u03b4TCR<sup>low</sup>', 461, 445, {s: 8});
T('IL-17A\u207a \u03b3\u03b4TCR<sup>low</sup>', 533, 445, {s: 8});
dotBar([37, 458, 68, 533], 17, 3, 1, 'Cell number (x10\u2076)', f1Mean, f1Sem, f1Pts);
dotBar([106, 458, 138, 533], 19, 12, 4, 'Cell number (x10\u00b3)', f2Mean, f2Sem, f2Pts);
dotBar([167, 458, 200, 533], 19, 25, 5, 'Cell number (x10\u2074)', f3Mean, f3Sem, f3Pts);
dotBar([237, 458, 267, 533], 17, 8, 2, 'Cell number (x10\u2076)', f4Mean, f4Sem, f4Pts);
dotBar([305, 458, 337, 533], 17, 4, 1, 'Cell number (x10\u2074)', f5Mean, f5Sem, f5Pts);
dotBar([372, 458, 405, 533], 19, 12, 4, 'Cell number (x10\u2074)', f6Mean, f6Sem, f6Pts);
dotBar([445, 458, 477, 533], 17, 5, 1, 'Cell number (x10\u2075)', f7Mean, f7Sem, f7Pts);
dotBar([517, 458, 550, 533], 19, 12, 4, 'Cell number (x10\u2074)', f8Mean, f8Sem, f8Pts,
  [[0, 1, 10, '****'], [1, 2, 11.2, '****'], [0, 2, 12, '*']]);
T(icon(0) + groups[0], 175, 548, {a: 'l', s: 7});
T(icon(1) + groups[1], 242, 548, {a: 'l', s: 7});
T(icon(2) + groups[2], 315, 548, {a: 'l', s: 7});

// ---------------- G ----------------
T('<b>G</b>', 4, 571, {a: 'l', s: 15});
T('f-MIIINA:H2-M3\u207a', 52, 580, {s: 7.5});
dotBar([37, 593, 72, 667], 17, 8, 2, 'Cell number (x10\u00b3)', gMean, gSem, gPts,
  [[0, 1, 7.5, '**'], [1, 2, 7.9, 'ns'], [0, 2, 8.6, '*']]);
legendCol(77, 607, 10.5, 7);

// ---------------- H ----------------
T('<b>H</b>', 147, 571, {a: 'l', s: 15});
(function () {
  const plot = [175, 573, 250, 657], m = {l: 11, t: 5, r: 4, b: 12};
  const c = canvasAt(plot, m);
  const ticks16 = s => { s.ticks = [1, 2, 3, 4, 5, 6].map(v => ({value: v})); };
  new Chart(c, {
    type: 'scatter',
    data: {datasets: [
      lineDs(hLeader, '#222', 0.7),
      dotDs(hChr5, '#b83245', 1.6),
      dotDs(hSparse, '#555', 0.9),
      dotDs(hCloud, '#0d0d0d', 1.6)
    ]},
    options: opts(m, {
      x: {type: 'linear', min: 0.8, max: 6.2, afterBuildTicks: ticks16,
          ticks: {font: {size: 8}, padding: 1},
          grid: {color: '#dadada', lineWidth: 0.6, tickLength: 2},
          border: {color: ink, width: 1}, afterFit: s => { s.height = m.b; }},
      y: {type: 'linear', min: 0.8, max: 6.2, afterBuildTicks: ticks16,
          ticks: {font: {size: 8}, padding: 1},
          grid: {color: '#dadada', lineWidth: 0.6, tickLength: 2},
          border: {color: ink, width: 1}, afterFit: s => { s.width = m.l; }}
    })
  });
})();
T('Chr5&nbsp;&nbsp; <i>23.7M (MLV)</i>', 233, 622, {a: 'l', s: 6.5, c: '#b83245'});
T('<i>S. epidermidis</i> +', 154, 615, {s: 8, rot: -90});
T('antiretroviral (Log<sub>10</sub>(TPM))', 163, 615, {s: 8, rot: -90});
T('<i>S. epidermidis</i> +', 213, 671, {s: 8});
T('Vehicle (Log<sub>10</sub>(TPM))', 213, 683, {s: 8});

// ---------------- I ----------------
T('<b>I</b>', 288, 571, {a: 'l', s: 15});
dotBar([312, 592, 353, 668], 20, 50, 10, 'CFU / cm\u00b2', iMean, iSem, iPts, [[1, 2, 41.5, '*']]);
legendCol(357, 601, 10, 7);

// ---------------- J ----------------
T('<b>J</b>', 3, 686, {a: 'l', s: 15});
T('Untreated', 84, 693, {s: 8});
T('Tenofovir', 204, 693, {s: 8});
T('Emitricitabine', 327, 693, {s: 8});
T('Tenofovir + Emitricitabine', 449, 693, {s: 8});
const pick = (vals, errs, ords) => vals.map((v, i) => ({v: v, e: errs[i], c: jColors[i], o: ords[i]}));
growth([40, 703, 128, 773], [{v: untVeh, e: untErr, c: '#2a2a2a', ec: '#6a6a6a'}]);
growth([160, 703, 249, 773], pick([tenVeh, ten064, ten32, ten16, ten80, ten04, ten2, ten10],
  [tenErr, tenErr, tenErr, tenErr, tenErr, tenErrBig, tenErrBig, tenErr], [3, 1, 2, 4, 5, 6, 7, 8]));
growth([283, 703, 372, 773], pick([emtVeh, emt064, emt32, emt16, emt80, emt04, emt2, emt10],
  [emtErr, emtErr, emtErr, emtErr, emtErr, emtErr, emtErrBig, emtErr], [3, 1, 2, 4, 5, 6, 7, 8]));
growth([406, 703, 493, 773], pick([comVeh, com064, com32, com16, com80, com04, com2, com10],
  [comErr, comErr, comErr, comErr, comErr, comErr, comErr, comErr], [2, 1, 3, 4, 5, 6, 7, 8]));
jLabels.forEach((l, i) => T('<span class="ln" style="background:' + jColors[i] + '"></span>' + l, 508, 703 + i * 10, {a: 'l', s: 7}));
</script>
</body>
</html>
